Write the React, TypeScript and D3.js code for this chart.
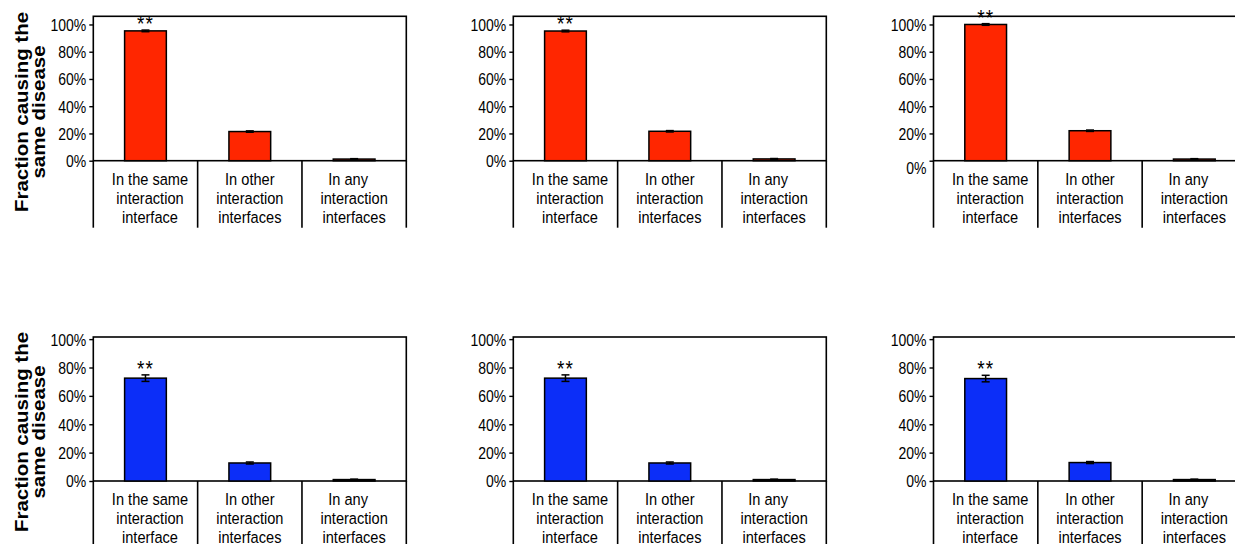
import React, { useEffect, useRef } from 'react';
import * as d3 from 'd3';

// category labels, one entry per line
const categoryLines = [
  ['In the same', 'interaction', 'interface'],
  ['In other', 'interaction', 'interfaces'],
  ['In any', 'interaction', 'interfaces'],
];
const yTicks = [0, 20, 40, 60, 80, 100];
const titleLines = ['Fraction causing the', 'same disease'];
const significance = ['**', '', ''];

// top row (red), three panels
const redValues = [
  [95.3, 21.4, 1.2],
  [95.2, 21.6, 1.3],
  [100, 22.0, 1.2],
];
const redErrors = [
  [0.6, 0.5, 0.3],
  [0.6, 0.5, 0.3],
  [0.6, 0.5, 0.3],
];

// bottom row (blue), three panels
const blueValues = [
  [72.5, 12.7, 1.0],
  [72.5, 12.7, 1.0],
  [72.2, 13.0, 1.0],
];
const blueErrors = [
  [2.3, 0.7, 0.3],
  [2.3, 0.7, 0.3],
  [2.3, 0.7, 0.3],
];

const FONT = '"Liberation Sans", Arial, Helvetica, sans-serif';
const STRETCH = 1.17;

const App = () => {
  const ref = useRef<HTMLDivElement>(null);

  useEffect(() => {
    d3.select(ref.current).selectAll('svg').remove();

    const width = 1235;
    const height = 544;
    const panelLefts = [93.3, 513.3, 933.5];
    const panelWidth = 313;

    const rows = [
      { y0: 160.7, top: 16.3, max: 106, color: '#ff2600', values: redValues, errors: redErrors, titleY: 112, zeroShift: [0, 0, 7] },
      { y0: 481, top: 337, max: 101.5, color: '#0c2ef8', values: blueValues, errors: blueErrors, titleY: 432, zeroShift: [0, 0, 0] },
    ];

    // label nudges like the original
    const labelDx = [[4.5, 4.5, 4.5], [0, 0, 0], [-6, 0, 0]];
    const lineBase = [24.3, 43.2, 62];

    const svg = d3.select(ref.current)
      .append('svg')
      .attr('width', width)
      .attr('height', height)
      .style('position', 'absolute')
      .style('left', '0px')
      .style('top', '0px')
      .style('background', '#fff');

    rows.forEach(row => {
      // y title
      const title = svg.append('g')
        .attr('transform', `translate(0, ${row.titleY}) scale(1, ${STRETCH}) rotate(-90)`);
      title.selectAll('text')
        .data(titleLines).enter()
        .append('text')
        .attr('x', 0)
        .attr('y', (d, i) => 28.5 + i * 16.5)
        .attr('text-anchor', 'middle')
        .attr('font-family', FONT)
        .attr('font-weight', 700)
        .attr('font-size', 17.5)
        .text(d => d);

      panelLefts.forEach((left, p) => {
        const values = row.values[p];
        const errors = row.errors[p];

        const x = d3.scaleBand<number>()
          .domain([0, 1, 2])
          .range([left, left + panelWidth])
          .paddingInner(0.6)
          .paddingOuter(0.3);
        const step = x.step();

        const y = d3.scaleLinear()
          .domain([0, row.max])
          .range([row.y0, row.top]);

        const g = svg.append('g');

        // plot frame
        g.append('rect')
          .attr('x', left)
          .attr('y', row.top)
          .attr('width', panelWidth)
          .attr('height', row.y0 - row.top)
          .attr('fill', 'none')
          .attr('stroke', '#000')
          .attr('stroke-width', 1.6);

        // category separators below the zero line
        g.selectAll('line.sep')
          .data([0, 1, 2, 3]).enter()
          .append('line')
          .attr('class', 'sep')
          .attr('x1', i => left + i * step)
          .attr('x2', i => left + i * step)
          .attr('y1', row.y0)
          .attr('y2', row.y0 + 67)
          .attr('stroke', '#000')
          .attr('stroke-width', 1.6);

        // y axis ticks + labels
        const axis = g.append('g')
          .attr('transform', `translate(${left}, 0)`)
          .call(d3.axisLeft(y).tickValues(yTicks).tickSize(4).tickPadding(3).tickFormat(d => `${d}%`));
        axis.select('.domain').remove();
        axis.selectAll('line').attr('stroke', '#000').attr('stroke-width', 1.4);
        axis.selectAll('text')
          .attr('font-family', FONT)
          .attr('font-size', 14)
          .attr('fill', '#000')
          .attr('dy', '0.36em')
          .attr('transform', (d: any) => `translate(0, ${d === 0 ? row.zeroShift[p] : 0}) scale(1, ${STRETCH})`);

        // bars
        g.selectAll('rect.bar')
          .data(values).enter()
          .append('rect')
          .attr('class', 'bar')
          .attr('x', (d, i) => x(i)!)
          .attr('y', d => y(d))
          .attr('width', x.bandwidth())
          .attr('height', d => row.y0 - y(d))
          .attr('fill', row.color)
          .attr('stroke', '#000')
          .attr('stroke-width', 1.5);

        // error bars
        values.forEach((v, i) => {
          const cx = x(i)! + x.bandwidth() / 2;
          const e = errors[i];
          const eb = g.append('g').attr('stroke', '#000').attr('stroke-width', 1.5);
          eb.append('line').attr('x1', cx).attr('x2', cx).attr('y1', y(v - e)).attr('y2', y(v + e));
          eb.append('line').attr('x1', cx - 4).attr('x2', cx + 4).attr('y1', y(v - e)).attr('y2', y(v - e));
          eb.append('line').attr('x1', cx - 4).attr('x2', cx + 4).attr('y1', y(v + e)).attr('y2', y(v + e));

          if (significance[i]) {
            g.append('text')
              .attr('transform', `translate(${cx}, ${y(v + e) + 1}) scale(1, ${STRETCH})`)
              .attr('text-anchor', 'middle')
              .attr('font-family', FONT)
              .attr('font-size', 19)
              .attr('letter-spacing', 1)
              .text(significance[i]);
          }
        });

        // category labels
        categoryLines.forEach((lines, i) => {
          const cx = x(i)! + x.bandwidth() / 2;
          lines.forEach((line, j) => {
            g.append('text')
              .attr('transform', `translate(${cx + labelDx[i][j]}, ${row.y0 + lineBase[j]}) scale(1, ${STRETCH})`)
              .attr('text-anchor', 'middle')
              .attr('font-family', FONT)
              .attr('font-size', 14.6)
              .attr('fill', '#000')
              .text(line);
          });
        });
      });
    });
  }, []);

  return <div id='chart' ref={ref}></div>;
};

export default App;
